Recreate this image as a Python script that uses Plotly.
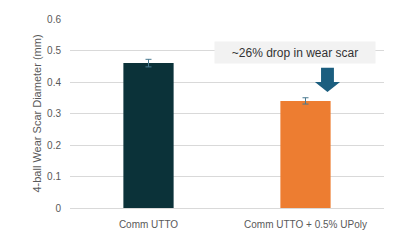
import plotly.graph_objects as go

categories = ["Comm UTTO", "Comm UTTO + 0.5% UPoly"]
values = [0.46, 0.34]
errors = [0.012, 0.01]
colors = ["#0b3239", "#ed7d31"]
y_ticks = [0, 0.1, 0.2, 0.3, 0.4, 0.5, 0.6]
annot_text = "~26% drop in wear scar"

fig = go.Figure()
fig.add_trace(go.Bar(
    x=categories, y=values,
    marker=dict(color=colors, line=dict(width=0)),
    error_y=dict(type="data", array=errors, visible=True, color="#4a7a90", thickness=1, width=3),
    width=0.32,
))

# Arrow (down) over second bar
cx, hw_shaft, hw_head = 1.14, 0.041, 0.08
y_top, y_mid, y_tip = 0.445, 0.40, 0.368
path = (f"M {cx-hw_shaft} {y_top} L {cx+hw_shaft} {y_top} L {cx+hw_shaft} {y_mid} "
        f"L {cx+hw_head} {y_mid} L {cx} {y_tip} L {cx-hw_head} {y_mid} L {cx-hw_shaft} {y_mid} Z")
fig.add_shape(type="path", path=path, xref="x", yref="y",
              fillcolor="#1b5e7f", line=dict(width=0))

fig.add_annotation(x=0.933, y=0.494, xref="x", yref="y", text=annot_text, showarrow=False,
                   bgcolor="#f2f2f2", width=158, height=19,
                   font=dict(family="Liberation Sans, Arial", size=12, color="#333333"))

fig.update_layout(
    width=400, height=243,
    margin=dict(l=70, r=16, t=19, b=35),
    paper_bgcolor="white", plot_bgcolor="white",
    showlegend=False,
    font=dict(family="Liberation Sans, Arial", color="#595959", size=10),
    xaxis=dict(showgrid=False, showline=False, ticks="", ticklabelstandoff=9,
               tickfont=dict(size=10, color="#595959")),
    yaxis=dict(range=[0, 0.6], tickvals=y_ticks, showgrid=True, gridcolor="#d9d9d9", gridwidth=1,
               zeroline=True, zerolinecolor="#d9d9d9", zerolinewidth=1, showline=False,
               ticks="", ticklabelstandoff=8,
               title=dict(text="4-ball Wear Scar Diameter (mm)", standoff=3,
                          font=dict(size=11, color="#595959"))),
)

fig.write_html("out.html")
